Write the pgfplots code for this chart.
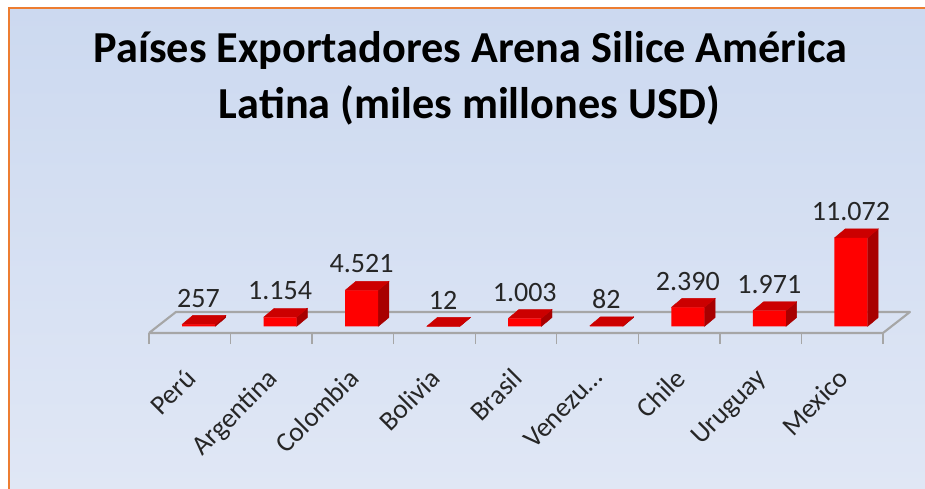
\documentclass[border=0pt]{standalone}
\usepackage{pgfplots}
\usepackage{pgfplotstable}
\usepackage{fontspec}
\pgfplotsset{compat=1.18}
\setmainfont{Carlito}

\definecolor{frameorange}{HTML}{ED7D31}
\definecolor{paneltop}{HTML}{CCD9F0}
\definecolor{panelbottom}{HTML}{E0E7F5}
\definecolor{floorgray}{HTML}{A6A6A6}
\definecolor{barfront}{HTML}{FF0000}
\definecolor{bartop}{HTML}{CC0000}
\definecolor{barside}{HTML}{A80000}

\pgfplotstableread{
pos   valor
0.607 257
1.607 1154
2.607 4521
3.607 12
4.607 1003
5.607 82
6.607 2390
7.607 1971
8.607 11072
}\exportaciones

% Depth faces of one column: #1 = category centre, #2 = value
\newcommand{\caras}[2]{%
  \pgfmathsetmacro{\der}{#1+0.2025}%
  \pgfmathsetmacro{\izq}{#1-0.2025}%
  \pgfmathsetmacro{\derf}{\der+0.132}%
  \pgfmathsetmacro{\izqf}{\izq+0.132}%
  \pgfmathsetmacro{\arr}{#2+1125}%
  \edef\temp{\noexpand\addplot[fill=barside,draw=barside,line width=0.3pt,forget plot]
    coordinates {(\der,0) (\der,#2) (\derf,\arr) (\derf,1125) (\der,0)};
    \noexpand\addplot[fill=bartop,draw=bartop,line width=0.3pt,forget plot]
    coordinates {(\izq,#2) (\der,#2) (\derf,\arr) (\izqf,\arr) (\izq,#2)};}%
  \temp
}

\begin{document}
\begin{tikzpicture}
  % Page and panel
  \path[use as bounding box] (0,0) rectangle (693.75pt,366.75pt);
  \fill[white] (0,0) rectangle (693.75pt,366.75pt);
  \shade[top color=paneltop,bottom color=panelbottom] (6.75pt,0) rectangle (693.75pt,360.75pt);
  \draw[frameorange,line width=1.5pt] (6.75pt,0) -- (6.75pt,360.75pt) -- (693.75pt,360.75pt);

  \begin{axis}[
    at={(111.75pt,117pt)}, anchor=south west,
    scale only axis, width=550.5pt, height=77.25pt,
    xmin=0, xmax=9, ymin=-812.5, ymax=12062,
    clip=false,
    hide y axis,
    axis x line=bottom,
    x axis line style={draw=none},
    xtick={0.5,1.5,2.5,3.5,4.5,5.5,6.5,7.5,8.5},
    xticklabels={Perú,Argentina,Colombia,Bolivia,Brasil,Venezu\dots,Chile,Uruguay,Mexico},
    minor xtick={0,1,2,3,4,5,6,7,8,9},
    major tick length=0pt,
    minor tick length=8.25pt,
    tick align=outside,
    minor tick style={draw=floorgray,line width=1pt},
    xticklabel style={font=\fontsize{20.5}{22}\selectfont,rotate=45,anchor=north east,
      xshift=-17.5pt,yshift=-11.5pt,text=black!85},
  ]
    % Floor of the plot
    \addplot[draw=floorgray,line width=1.6pt,line join=round,forget plot]
      coordinates {(0,-812.5) (9,-812.5) (9.33,1812.5) (0.33,1812.5) (0,-812.5)};

    % Depth of the columns
    \caras{0.607}{257}
    \caras{1.607}{1154}
    \caras{2.607}{4521}
    \caras{3.607}{12}
    \caras{4.607}{1003}
    \caras{5.607}{82}
    \caras{6.607}{2390}
    \caras{7.607}{1971}
    \caras{8.607}{11072}

    % Front faces and value labels
    \addplot[ybar,bar width=24.75pt,bar shift=0pt,fill=barfront,draw=none,
      nodes near coords,
      every node near coord/.append style={anchor=base,yshift=13pt,inner sep=0pt,
        font=\fontsize{21}{23}\selectfont,text=black!85,
        /pgf/number format/.cd,1000 sep={.},assume math mode=true},
    ] table[x=pos,y=valor] {\exportaciones};
  \end{axis}

  % Title
  \node[anchor=base,font=\fontsize{33.2}{42}\selectfont\bfseries] at (353pt,320pt)
    {Países Exportadores Arena Silice América};
  \node[anchor=base,font=\fontsize{33.2}{42}\selectfont\bfseries] at (352pt,278pt)
    {Latina (miles millones USD)};
\end{tikzpicture}
\end{document}
